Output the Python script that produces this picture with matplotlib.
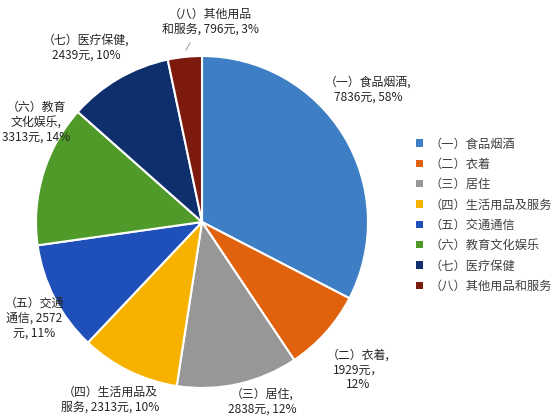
import matplotlib
matplotlib.use("Agg")
import matplotlib.pyplot as plt
from matplotlib.patches import Patch

plt.rcParams['font.family'] = ['Noto Sans CJK SC', 'DejaVu Sans']

categories = ["（一）食品烟酒", "（二）衣着", "（三）居住", "（四）生活用品及服务",
              "（五）交通通信", "（六）教育文化娱乐", "（七）医疗保健", "（八）其他用品和服务"]
values = [7836, 1929, 2838, 2313, 2572, 3313, 2439, 796]
label_texts = [
    "（一）食品烟酒,\n7836元, 58%",
    "（二）衣着,\n1929元，\n12%",
    "（三）居住,\n2838元, 12%",
    "（四）生活用品及\n服务, 2313元, 10%",
    "（五）交通\n通信, 2572\n元, 11%",
    "（六）教育\n文化娱乐,\n3313元, 14%",
    "（七）医疗保健,\n2439元, 10%",
    "（八）其他用品\n和服务, 796元, 3%",
]
colors = ['#3D7EC4', '#E0620D', '#979797', '#F7B200', '#1F4FB9', '#4F9A28', '#0E2F6C', '#7C1B0D']
# label centre positions in pixels (layout only)
label_pos = [(368, 90), (358, 370), (262, 402), (110, 400),
             (34, 318), (36, 122), (86, 48), (210, 22)]

W, H = 553, 418
fig = plt.figure(figsize=(W / 100, H / 100), dpi=100)
cx, cy, r = 202, 222, 166
ax = fig.add_axes([(cx - r) / W, (H - cy - r) / H, 2 * r / W, 2 * r / H])
wedges, _ = ax.pie(values, colors=colors, startangle=90, counterclock=False,
                   wedgeprops=dict(edgecolor='white', linewidth=1.5))
ax.set_xlim(-1, 1)
ax.set_ylim(-1, 1)
ax.set_aspect('equal')

for txt, (px, py) in zip(label_texts, label_pos):
    fig.text(px / W, 1 - py / H, txt, ha='center', va='center', fontsize=8.6,
             color='#262626', linespacing=1.2)

# leader line for the small slice
fig.add_artist(plt.Line2D([190 / W, 186 / W], [1 - 43 / H, 1 - 50 / H], color='#A6A6A6', lw=0.8))

handles = [Patch(facecolor=c, edgecolor='none') for c in colors]
fig.legend(handles, categories, loc='center left', bbox_to_anchor=(405 / W, 1 - 215 / H),
           frameon=False, fontsize=8.8, handlelength=0.55, handleheight=0.55,
           handletextpad=0.55, labelspacing=0.6, labelcolor='#404040')

fig.savefig('out.png', dpi=100)
